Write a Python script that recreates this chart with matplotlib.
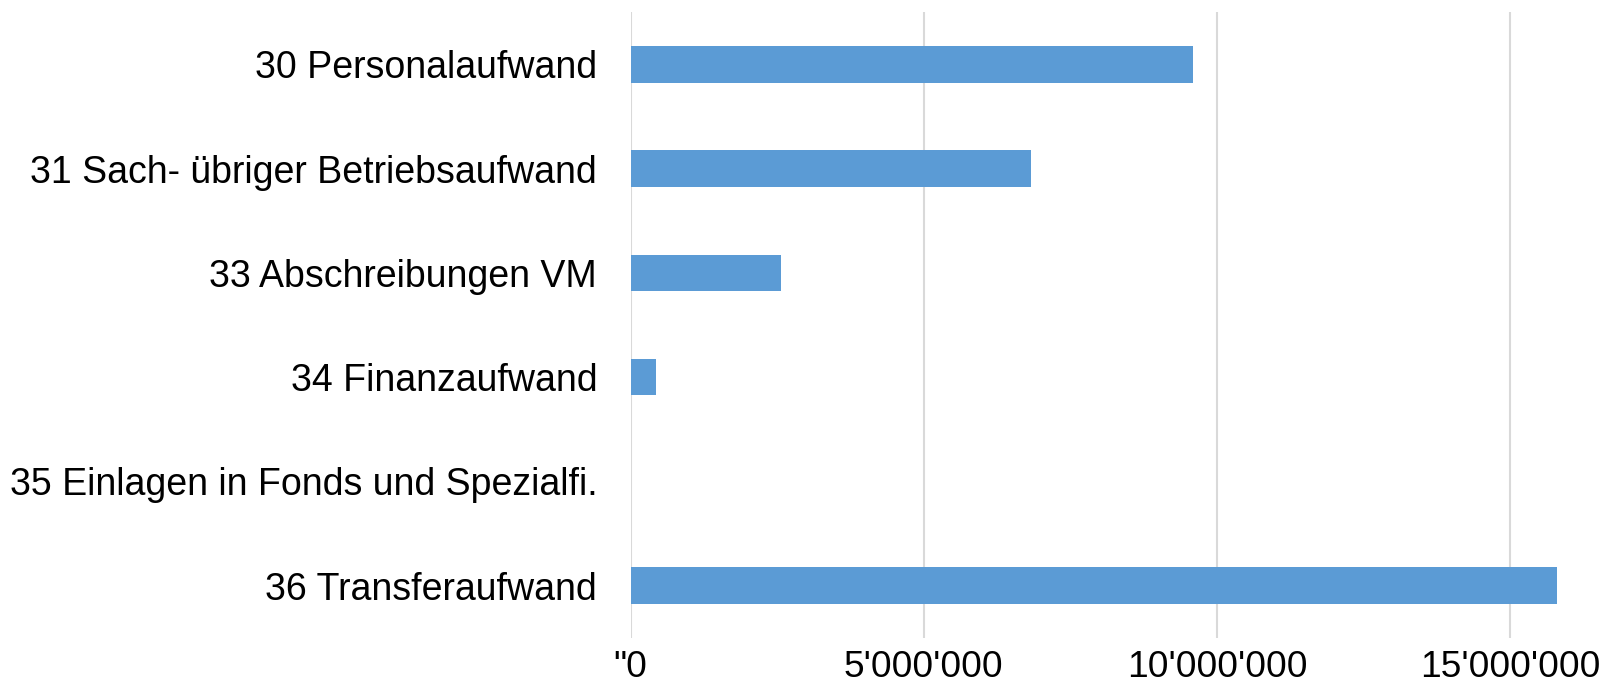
import matplotlib
matplotlib.use("Agg")
import matplotlib.pyplot as plt
from matplotlib.ticker import FixedLocator, FixedFormatter

categories = [
    "30 Personalaufwand",
    "31 Sach- übriger Betriebsaufwand",
    "33 Abschreibungen VM",
    "34 Finanzaufwand",
    "35 Einlagen in Fonds und Spezialfi.",
    "36 Transferaufwand",
]
values = [9600000, 6830000, 2560000, 440000, 0, 15800000]
tick_values = [0, 5000000, 10000000, 15000000]
tick_labels = ['"0', "5'000'000", "10'000'000", "15'000'000"]

plt.rcParams['font.family'] = ['Liberation Sans', 'DejaVu Sans']

fig = plt.figure(figsize=(16.13, 6.85), dpi=100)
ax = fig.add_axes([0.3909, 0.0689, 0.9726 - 0.3909, 0.982 - 0.0689])

ypos = list(range(len(categories)))
ax.barh(ypos, values, height=0.35, color="#5B9BD5", zorder=3)

ax.set_ylim(len(categories) - 0.5, -0.5)
ax.set_xlim(0, 16000000)
ax.set_yticks(ypos)
ax.set_yticklabels(categories, fontsize=27, color="black")
ax.xaxis.set_major_locator(FixedLocator(tick_values))
ax.xaxis.set_major_formatter(FixedFormatter(tick_labels))
for lbl in ax.get_xticklabels():
    lbl.set_fontsize(26.7)
ax.tick_params(axis='y', length=0, pad=24)
ax.tick_params(axis='x', length=0, pad=9)
ax.grid(axis='x', color="#D9D9D9", linewidth=1.5, zorder=0)
for s in ax.spines.values():
    s.set_visible(False)

fig.savefig("out.png", dpi=100, facecolor="white")
